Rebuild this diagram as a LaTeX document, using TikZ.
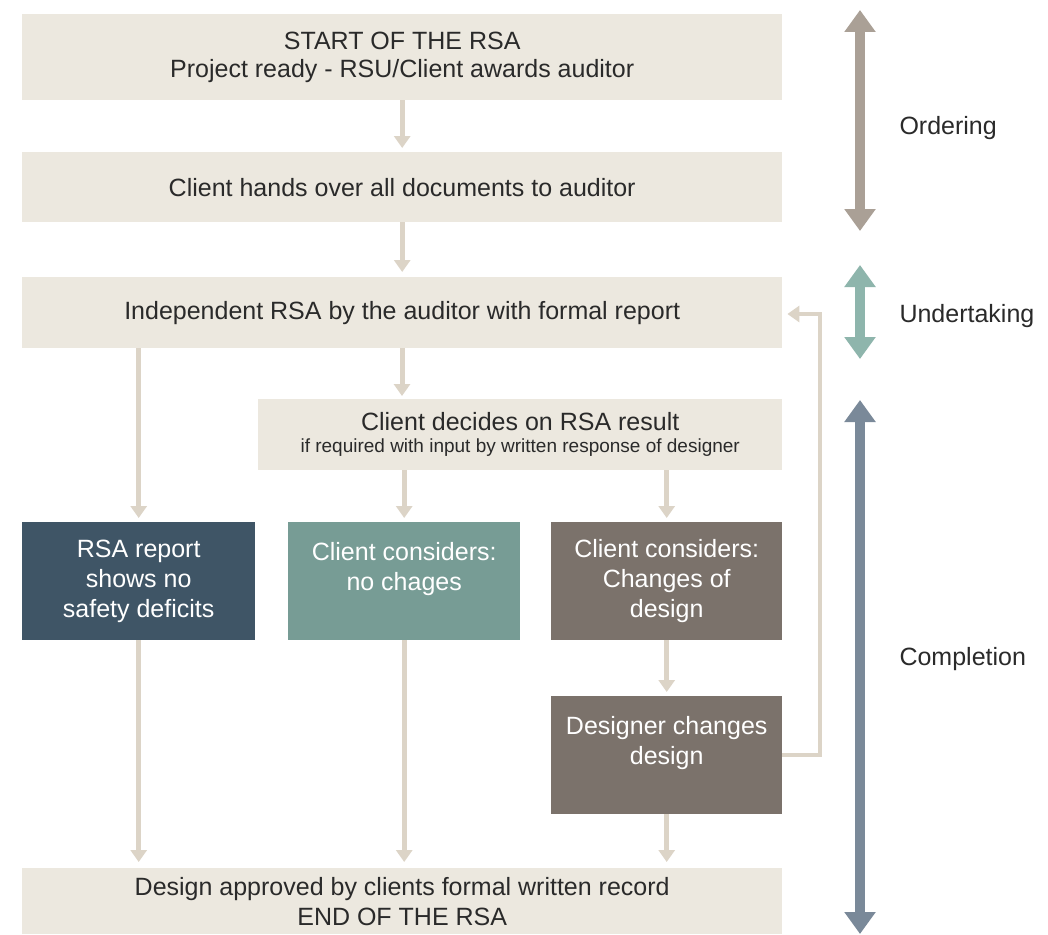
\documentclass[tikz,border=0pt]{standalone}
\usepackage{fontspec}
\setmainfont{Liberation Sans}
\usetikzlibrary{arrows.meta,positioning}
\definecolor{beige}{HTML}{ECE8DF}
\definecolor{flowc}{HTML}{DCD4C7}
\definecolor{navy}{HTML}{3F5566}
\definecolor{teal}{HTML}{779C95}
\definecolor{taupe}{HTML}{7B726B}
\definecolor{ordc}{HTML}{AAA096}
\definecolor{undc}{HTML}{8EB5AC}
\definecolor{comc}{HTML}{7A8999}
\definecolor{txt}{HTML}{2A2A2A}
\tikzset{
  x=1pt,y=-1pt,
  beigebox/.style={fill=beige,draw=none,anchor=north west,inner sep=0pt,align=center,text=txt,font=\fontsize{25}{28}\selectfont},
  colbox/.style={draw=none,anchor=north west,inner sep=0pt,align=center,text=white,font=\fontsize{25}{30}\selectfont,minimum width=233pt,minimum height=118pt},
  flow/.style={draw=flowc,line width=5pt,-{Triangle[width=16pt,length=12pt]}},
  phase/.style={line width=10pt,{Triangle[width=30pt,length=22pt]}-{Triangle[width=30pt,length=22pt]}},
  phaselabel/.style={anchor=west,text=txt,font=\fontsize{25}{28}\selectfont}
}
\begin{document}
\begin{tikzpicture}
\useasboundingbox (0,0) rectangle (1048,934);
\fill[white] (0,0) rectangle (1048,934);
% main boxes
\node[beigebox,minimum width=760pt,minimum height=86pt] (b1) at (22,14) {START OF THE RSA\\Project ready - RSU/Client awards auditor};
\node[beigebox,minimum width=760pt,minimum height=70pt] (b2) at (22,152) {Client hands over all documents to auditor};
\node[beigebox,minimum width=760pt,minimum height=71pt] (b3) at (22,277) {Independent RSA by the auditor with formal report};
\node[beigebox,minimum width=524pt,minimum height=71pt] (b4) at (258,399) {Client decides on RSA result\\[-6pt]{\fontsize{19}{22}\selectfont if required with input by written response of designer}};
\node[colbox,fill=navy] (rsa) at (22,522) {RSA report\\shows no\\safety deficits};
\node[colbox,fill=teal,minimum width=232pt] (noch) at (288,522) {Client considers:\\no chages\\\mbox{}};
\node[colbox,fill=taupe,minimum width=231pt] (chg) at (551,522) {Client considers:\\Changes of\\design};
\node[colbox,fill=taupe,minimum width=231pt] (des) at (551,696) {Designer changes\\design\\\mbox{}};
\node[beigebox,minimum width=760pt,minimum height=66pt,font=\fontsize{25}{30}\selectfont] (end) at (22,868) {Design approved by clients formal written record\\END OF THE RSA};
% flow arrows
\draw[flow] (b1.south) -- ([yshift=4pt]b2.north);
\draw[flow] (b2.south) -- ([yshift=5pt]b3.north);
\draw[flow] (b3.south -| 402,0) -- ([yshift=3pt]b4.north -| 402,0);
\draw[flow] (b3.south -| rsa.north) -- ([yshift=4pt]rsa.north);
\draw[flow] (b4.south -| noch.north) -- ([yshift=4pt]noch.north);
\draw[flow] (b4.south -| chg.north) -- ([yshift=4pt]chg.north);
\draw[flow] (rsa.south) -- ([yshift=6pt]rsa.south |- end.north);
\draw[flow] (noch.south) -- ([yshift=6pt]noch.south |- end.north);
\draw[flow] (chg.south) -- ([yshift=4pt]des.north);
\draw[flow] (des.south) -- ([yshift=6pt]des.south |- end.north);
\coordinate (fbA) at (820,755);
\coordinate (fbB) at (820,314);
\draw[flow,line width=4pt] (des.east |- fbA) -- (fbA) -- (fbB) -- ([xshift=5pt]b3.east |- fbB);
% phase arrows
\coordinate (o1) at (860,10);
\coordinate (o2) at (860,231);
\coordinate (u1) at (860,265);
\coordinate (u2) at (860,359);
\coordinate (c1) at (860,400);
\coordinate (c2) at (860,934);
\draw[phase,draw=ordc,fill=ordc] (o1) -- (o2);
\draw[phase,draw=undc,fill=undc] (u1) -- (u2);
\draw[phase,draw=comc,fill=comc] (c1) -- (c2);
\node[phaselabel] (lo) at (896,128) {Ordering};
\node[phaselabel] (lu) at (896,316) {Undertaking};
\node[phaselabel] (lc) at (896,659) {Completion};
\end{tikzpicture}
\end{document}
